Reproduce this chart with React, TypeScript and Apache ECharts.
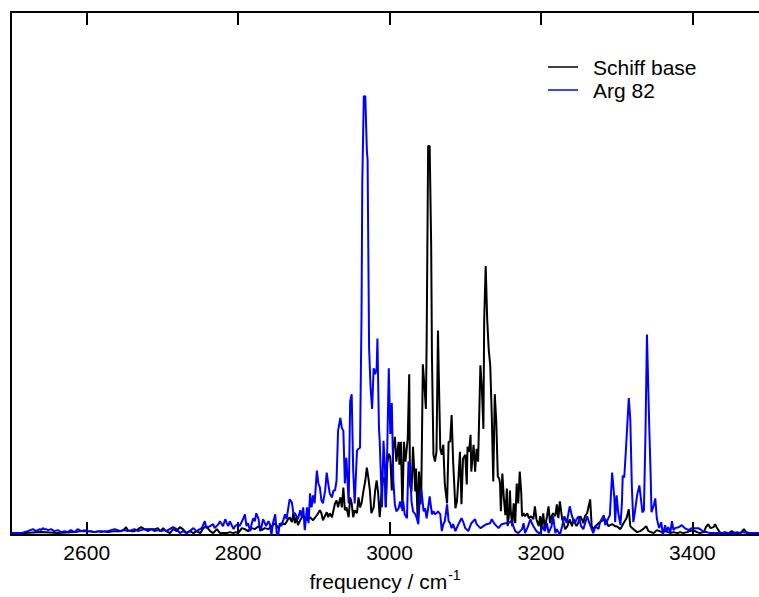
import React, { useEffect, useRef } from "react";
import * as echarts from "echarts";

// Schiff base spectrum (frequency in cm^-1, intensity in arbitrary units)
const schiffFreq = [2500, 2505, 2518, 2540, 2562, 2584, 2593, 2601, 2610, 2619, 2628, 2637, 2645, 2650, 2652, 2654, 2659, 2663, 2668, 2672, 2676, 2681, 2685, 2690, 2694, 2697, 2701, 2705, 2710, 2714, 2719, 2723, 2727, 2732, 2736, 2741, 2745, 2750, 2754, 2758, 2763, 2767, 2772, 2776, 2780, 2785, 2789, 2794, 2797, 2800, 2805, 2809, 2813, 2818, 2822, 2827, 2831, 2835, 2840, 2844, 2849, 2853, 2857, 2862, 2866, 2868, 2871, 2873, 2875, 2877, 2879, 2882, 2886, 2891, 2895, 2899, 2904, 2908, 2910, 2912, 2917, 2919, 2921, 2924, 2926, 2928, 2930, 2932, 2935, 2937, 2939, 2941, 2943, 2946, 2948, 2950, 2952, 2954, 2957, 2959, 2961, 2963, 2965, 2968, 2970, 2972, 2974, 2976, 2979, 2981, 2983, 2985, 2987, 2990, 2992, 2994, 2995, 2997, 2999, 3001, 3003, 3005, 3007, 3009, 3012, 3013, 3015, 3017, 3019, 3021, 3024, 3026, 3027, 3029, 3031, 3034, 3035, 3037, 3039, 3041, 3042, 3044, 3046, 3048, 3049, 3051, 3053, 3055, 3056, 3058, 3060, 3062, 3064, 3065, 3067, 3069, 3071, 3073, 3076, 3078, 3080, 3082, 3084, 3087, 3089, 3091, 3093, 3095, 3097, 3100, 3102, 3103, 3105, 3107, 3108, 3111, 3113, 3115, 3117, 3120, 3122, 3124, 3125, 3127, 3129, 3131, 3133, 3135, 3137, 3139, 3141, 3143, 3145, 3146, 3147, 3149, 3151, 3153, 3155, 3156, 3158, 3159, 3160, 3162, 3164, 3166, 3168, 3170, 3172, 3174, 3175, 3177, 3179, 3182, 3184, 3187, 3190, 3192, 3194, 3197, 3199, 3201, 3203, 3205, 3208, 3210, 3212, 3214, 3216, 3219, 3221, 3223, 3225, 3228, 3230, 3232, 3235, 3238, 3241, 3243, 3245, 3247, 3249, 3252, 3254, 3256, 3258, 3261, 3263, 3265, 3267, 3269, 3272, 3276, 3280, 3285, 3289, 3294, 3298, 3300, 3305, 3309, 3313, 3316, 3318, 3322, 3327, 3331, 3335, 3339, 3342, 3349, 3353, 3360, 3365, 3371, 3375, 3380, 3384, 3388, 3393, 3401, 3406, 3410, 3415, 3418, 3421, 3424, 3428, 3430, 3432, 3436, 3439, 3443, 3448, 3452, 3456, 3461, 3465, 3468, 3471, 3476, 3481, 3485, 3490];
const schiffIntensity = [2, 2, 2, 3, 2, 3, 4, 4, 3, 4, 3, 4, 4, 6, 8, 5, 4, 4, 6, 8, 6, 6, 6, 6, 7, 4, 7, 4, 2, 6, 4, 8, 6, 2, 4, 2, 4, 2, 7, 9, 4, 2, 6, 2, 2, 2, 3, 2, 3, 2, 7, 6, 4, 7, 6, 9, 5, 7, 6, 9, 12, 7, 12, 11, 16, 18, 13, 22, 12, 18, 10, 15, 20, 15, 18, 15, 20, 25, 22, 15, 23, 18, 22, 18, 25, 32, 35, 28, 38, 28, 48, 25, 28, 18, 38, 32, 18, 25, 22, 38, 28, 32, 42, 55, 68, 58, 45, 22, 28, 45, 55, 42, 18, 48, 58, 55, 28, 72, 82, 78, 45, 88, 99, 74, 94, 71, 94, 24, 94, 74, 97, 162, 51, 44, 89, 44, 67, 17, 64, 31, 47, 172, 151, 127, 194, 392, 392, 291, 181, 81, 74, 84, 206, 164, 87, 81, 91, 51, 32, 94, 94, 121, 74, 27, 34, 57, 84, 31, 77, 81, 51, 89, 84, 101, 64, 91, 64, 87, 74, 171, 147, 107, 217, 271, 217, 187, 171, 121, 54, 142, 114, 59, 57, 51, 24, 62, 37, 20, 47, 9, 22, 45, 26, 9, 32, 12, 52, 32, 64, 42, 19, 22, 19, 22, 17, 19, 16, 29, 16, 9, 19, 9, 22, 6, 19, 29, 12, 19, 22, 19, 31, 17, 34, 16, 12, 6, 9, 16, 9, 16, 12, 9, 12, 19, 16, 12, 19, 22, 29, 36, 9, 6, 9, 12, 14, 16, 9, 11, 9, 9, 6, 12, 17, 26, 9, 6, 3, 4, 6, 9, 4, 2, 5, 3, 4, 2, 3, 2, 3, 2, 3, 5, 3, 2, 3, 8, 11, 7, 8, 11, 8, 3, 2, 3, 2, 4, 2, 2, 3, 6, 3, 2, 2, 2, 2];

// Arg 82 spectrum
const argFreq = [2500, 2505, 2513, 2522, 2529, 2533, 2538, 2540, 2542, 2544, 2546, 2549, 2553, 2557, 2562, 2566, 2571, 2575, 2579, 2584, 2588, 2593, 2597, 2601, 2606, 2610, 2615, 2619, 2624, 2628, 2632, 2637, 2641, 2645, 2650, 2654, 2659, 2663, 2668, 2672, 2676, 2681, 2685, 2690, 2694, 2698, 2703, 2705, 2714, 2719, 2723, 2727, 2732, 2736, 2741, 2745, 2752, 2756, 2758, 2763, 2767, 2769, 2774, 2776, 2780, 2783, 2785, 2787, 2789, 2794, 2796, 2800, 2802, 2807, 2809, 2811, 2813, 2816, 2818, 2820, 2822, 2824, 2827, 2829, 2831, 2833, 2837, 2840, 2842, 2844, 2846, 2849, 2851, 2853, 2855, 2857, 2860, 2862, 2864, 2866, 2868, 2871, 2873, 2875, 2877, 2879, 2882, 2884, 2886, 2888, 2891, 2893, 2895, 2897, 2899, 2901, 2904, 2906, 2908, 2910, 2912, 2915, 2917, 2919, 2921, 2924, 2926, 2928, 2930, 2932, 2935, 2937, 2939, 2941, 2943, 2946, 2948, 2950, 2952, 2954, 2957, 2959, 2961, 2963, 2964, 2966, 2968, 2970, 2971, 2973, 2975, 2977, 2979, 2981, 2983, 2984, 2986, 2987, 2990, 2992, 2994, 2995, 2997, 2999, 3001, 3003, 3005, 3007, 3009, 3012, 3014, 3016, 3018, 3020, 3023, 3025, 3027, 3029, 3031, 3034, 3036, 3038, 3040, 3042, 3045, 3047, 3049, 3051, 3053, 3056, 3058, 3060, 3062, 3064, 3067, 3069, 3071, 3073, 3076, 3078, 3080, 3082, 3084, 3087, 3091, 3095, 3097, 3100, 3104, 3108, 3113, 3115, 3120, 3124, 3128, 3133, 3135, 3139, 3144, 3148, 3153, 3157, 3161, 3166, 3170, 3175, 3177, 3179, 3183, 3186, 3188, 3190, 3194, 3199, 3202, 3205, 3208, 3210, 3214, 3216, 3219, 3221, 3225, 3228, 3231, 3234, 3238, 3241, 3245, 3247, 3250, 3253, 3256, 3261, 3264, 3267, 3269, 3272, 3276, 3278, 3283, 3285, 3289, 3291, 3294, 3297, 3298, 3300, 3302, 3305, 3307, 3308, 3310, 3312, 3316, 3318, 3320, 3322, 3324, 3327, 3330, 3332, 3334, 3336, 3338, 3340, 3343, 3345, 3346, 3349, 3351, 3353, 3356, 3359, 3361, 3364, 3366, 3368, 3371, 3373, 3375, 3377, 3382, 3386, 3390, 3395, 3399, 3404, 3408, 3412, 3415, 3419, 3423, 3428, 3432, 3437, 3441, 3445, 3450, 3454, 3459, 3463, 3467, 3472, 3476, 3481, 3485, 3490];
const argIntensity = [2, 2, 2, 4, 6, 4, 6, 5, 7, 6, 6, 5, 6, 4, 5, 3, 4, 3, 5, 3, 6, 4, 5, 4, 4, 3, 4, 3, 4, 4, 5, 6, 5, 4, 5, 4, 5, 6, 4, 5, 6, 4, 6, 4, 5, 4, 5, 4, 8, 6, 2, 4, 2, 4, 7, 4, 7, 14, 7, 9, 11, 7, 11, 14, 9, 16, 12, 9, 14, 6, 9, 11, 9, 17, 21, 9, 12, 4, 12, 17, 14, 22, 16, 4, 9, 16, 9, 14, 11, 0, 12, 21, 2, 0, 12, 9, 16, 21, 16, 26, 36, 33, 22, 22, 19, 16, 25, 18, 28, 5, 28, 12, 42, 28, 40, 32, 65, 52, 48, 35, 32, 45, 63, 52, 42, 38, 45, 45, 55, 105, 118, 108, 105, 52, 78, 32, 135, 142, 65, 32, 85, 87, 88, 222, 355, 442, 442, 388, 378, 188, 148, 127, 168, 162, 168, 198, 108, 95, 28, 95, 68, 28, 88, 168, 102, 133, 55, 31, 24, 27, 34, 27, 34, 21, 17, 74, 71, 34, 24, 21, 17, 11, 37, 46, 24, 27, 17, 27, 39, 21, 24, 21, 22, 24, 21, 4, 11, 14, 31, 14, 12, 7, 11, 4, 11, 17, 14, 7, 4, 12, 16, 11, 7, 9, 11, 12, 16, 11, 7, 11, 12, 12, 14, 4, 2, 6, 12, 2, 9, 16, 12, 9, 4, 1, 9, 4, 12, 2, 9, 19, 2, 6, 0, 9, 19, 12, 29, 19, 12, 16, 19, 9, 6, 19, 12, 6, 2, 9, 6, 13, 20, 10, 17, 20, 63, 37, 13, 40, 23, 10, 33, 60, 58, 83, 138, 117, 50, 13, 23, 40, 50, 37, 23, 25, 100, 202, 110, 57, 23, 30, 37, 17, 7, 13, 0, 10, 3, 8, 3, 14, 5, 7, 8, 10, 7, 5, 7, 7, 7, 5, 3, 3, 2, 2, 2, 2, 2, 2, 2, 2, 3, 2, 3, 2, 2, 2, 2, 2];

const seriesNames = ["Schiff base", "Arg 82"];
const seriesColors = ["#000000", "#0000ff"];
const tickValues = [2600, 2800, 3000, 3200, 3400];
const xMin = 2500;
const xMax = 3488;
const yMax = 527;

const FONT = "'Liberation Sans', Arial, Helvetica, sans-serif";

export default function App() {
  const ref = useRef<HTMLDivElement>(null);

  useEffect(() => {
    if (!ref.current) return;
    const chart = echarts.init(ref.current, undefined, { renderer: "svg" });
    const axisLineStyle = { color: "#000", width: 2 };
    const tick = {
      show: true,
      inside: true,
      length: 13,
      customValues: tickValues,
      lineStyle: { color: "#000", width: 2 },
    };

    // legend drawn as graphic elements (line + label per series)
    const legendItems: any[] = [];
    seriesNames.forEach((name, i) => {
      const y = 67 + i * 23;
      legendItems.push({
        type: "line",
        shape: { x1: 548, y1: y, x2: 578, y2: y },
        style: { stroke: seriesColors[i], lineWidth: 1.5 },
      });
      legendItems.push({
        type: "text",
        x: 593,
        y: y,
        style: {
          text: name,
          fill: "#000",
          font: `21px ${FONT}`,
          textVerticalAlign: "middle",
          verticalAlign: "middle",
        },
      });
    });

    const option: any = {
      animation: false,
      backgroundColor: "#fff",
      grid: { left: 11, right: 0, top: 12, bottom: 58, containLabel: false },
      graphic: legendItems,
      xAxis: [
        {
          type: "value",
          position: "bottom",
          min: xMin,
          max: xMax,
          axisLine: { show: true, onZero: false, lineStyle: axisLineStyle },
          axisTick: tick,
          splitLine: { show: false },
          axisLabel: {
            customValues: tickValues,
            formatter: (v: number) => String(v),
            color: "#000",
            fontFamily: FONT,
            fontSize: 21,
            margin: 7,
          },
          name: "{a|frequency / cm}{b|-1}",
          nameLocation: "middle",
          nameGap: 32,
          nameTextStyle: {
            rich: {
              a: { fontFamily: FONT, fontSize: 21, color: "#000", verticalAlign: "bottom", lineHeight: 24 },
              b: { fontFamily: FONT, fontSize: 14, color: "#000", verticalAlign: "top", lineHeight: 24, padding: [0, 0, 10, 1] },
            },
          },
        },
        {
          type: "value",
          position: "top",
          min: xMin,
          max: xMax,
          axisLine: { show: true, onZero: false, lineStyle: axisLineStyle },
          axisTick: tick,
          splitLine: { show: false },
          axisLabel: { show: false },
        },
      ],
      yAxis: {
        type: "value",
        min: 0,
        max: yMax,
        axisLine: { show: true, onZero: false, lineStyle: axisLineStyle },
        axisTick: { show: false },
        axisLabel: { show: false },
        splitLine: { show: false },
      },
      series: [
        {
          name: seriesNames[0],
          type: "line",
          xAxisIndex: 0,
          symbol: "none",
          showSymbol: false,
          color: seriesColors[0],
          lineStyle: { color: seriesColors[0], width: 2 },
          data: schiffFreq.map((f, i) => [f, schiffIntensity[i]]),
          z: 3,
        },
        {
          name: seriesNames[1],
          type: "line",
          xAxisIndex: 0,
          symbol: "none",
          showSymbol: false,
          color: seriesColors[1],
          lineStyle: { color: seriesColors[1], width: 2 },
          data: argFreq.map((f, i) => [f, argIntensity[i]]),
          z: 4,
        },
      ],
    };
    chart.setOption(option);
    return () => chart.dispose();
  }, []);

  return (
    <div
      ref={ref}
      style={{ position: "absolute", left: 0, top: 0, width: 759, height: 597, background: "#fff" }}
    />
  );
}
